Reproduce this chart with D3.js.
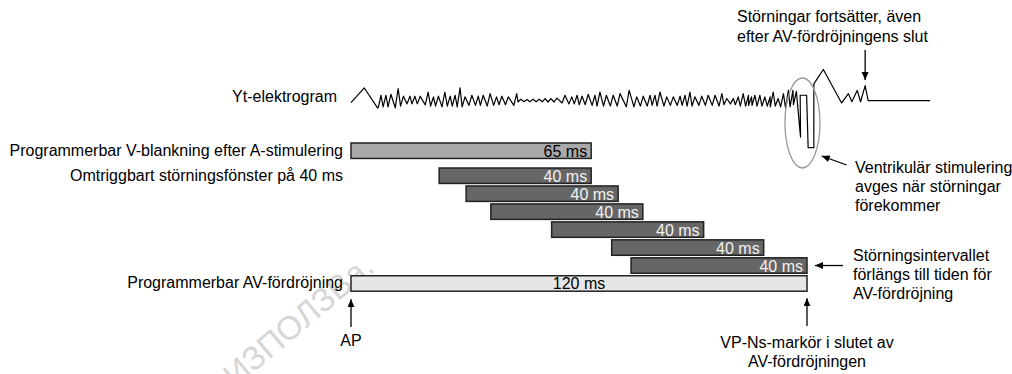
<!DOCTYPE html>
<html>
<head>
<meta charset="utf-8">
<script src="https://cdn.jsdelivr.net/npm/d3@7"></script>
<style>
body { margin: 0; background: #fff; }
text { font-family: "Liberation Sans", Arial, sans-serif; font-size: 16px; fill: #000; }
</style>
</head>
<body>
<div id="chart"></div>
<script>
// timing windows, ms after AP
let barKeys = ["n1", "n2", "n3", "n4", "n5", "n6", "av"];
let barKind = ["noise", "noise", "noise", "noise", "noise", "noise", "av"];
let barStart = [23.2, 30.3, 36.8, 52.8, 68.6, 73.7, 0];
let barEnd = [63.2, 70.3, 76.8, 92.8, 108.6, 120, 120];
let barText = ["40 ms", "40 ms", "40 ms", "40 ms", "40 ms", "40 ms", "120 ms"];

let blankStart = 0;
let blankEnd = 63.2;
let blankText = "65 ms";

let rowLabels = [
    "Programmerbar V-blankning efter A-stimulering",
    "Omtriggbart störningsfönster på 40 ms",
    "Programmerbar AV-fördröjning"
];
let egmLabel = "Yt-elektrogram";

// surface electrogram: [ms, mV]
let egmStart = [[0, -0.04], [3.5, 1.04], [6.98, -0.43]];
// teeth: [ms of peak, peak mV, trough mV before it]
let egmTeeth = [
    [7.9, 0.5, -0.43], [9.2, 0.5, -0.36], [10.5, 0.57, -0.36], [12.4, 1.0, -0.43],
    [13.8, 0.43, -0.3], [15.5, 0.43, -0.14], [16.8, 0.43, -0.14], [18.2, 0.43, -0.14],
    [20.3, 0.74, -0.21], [21.7, 0.38, -0.3], [23.0, 0.43, -0.3], [24.7, 0.74, -0.36],
    [26.1, 0.43, -0.3], [27.4, 0.5, -0.3], [28.7, 1.05, -0.36], [30.0, 0.38, -0.36],
    [31.8, 0.5, -0.25], [33.5, 0.43, -0.25], [34.8, 0.5, -0.25], [36.6, 0.62, -0.3],
    [38.3, 0.38, -0.25], [39.7, 0.43, -0.2], [41.4, 0.38, -0.2], [43.6, 0.62, -0.25],
    [44.7, 0.21, 0.0], [46.3, 0.18, 0.02], [47.9, 0.21, 0.02], [49.5, 0.21, 0.02],
    [51.1, 0.25, 0.02], [52.6, 0.25, 0.0], [54.2, 0.29, 0.0], [56.3, 0.5, -0.07],
    [58.1, 0.38, -0.14], [59.5, 0.5, -0.14], [60.8, 0.43, -0.2], [62.4, 0.57, -0.2],
    [64.2, 0.5, -0.25], [65.5, 0.74, -0.3], [67.2, 0.5, -0.3], [69.0, 0.5, -0.3],
    [70.8, 0.62, -0.3], [73.2, 0.86, -0.36], [75.2, 0.38, -0.36], [76.9, 0.43, -0.3],
    [78.7, 0.5, -0.3], [80.0, 0.5, -0.25], [81.3, 0.74, -0.3], [83.1, 0.38, -0.3],
    [84.8, 0.38, -0.25], [86.6, 0.43, -0.25], [87.9, 0.5, -0.25], [89.2, 0.74, -0.3],
    [90.5, 0.38, -0.3], [92.3, 0.43, -0.25], [94.0, 0.5, -0.25], [95.8, 0.5, -0.25],
    [97.6, 0.62, -0.3], [98.9, 0.26, -0.2], [100.6, 0.26, -0.14], [101.9, 0.38, -0.2],
    [103.2, 0.62, -0.3], [104.6, 0.5, -0.3], [105.4, 0.38, -0.25], [106.3, 0.5, -0.25],
    [107.6, 0.5, -0.3], [108.9, 0.38, -0.3], [110.3, 0.38, -0.3], [111.1, 0.74, -0.36],
    [112.4, 0.26, -0.3], [113.8, 0.62, -0.36], [115.1, 0.86, -0.43], [116.3, 0.86, -0.36],
    [117.2, 0.79, -0.2]
];
// V pace artefact and what follows
let egmEnd = [
    [118.3, -2.6], [118.2, 0.5], [119.9, 0.5], [120.3, -3.38], [121.8, -3.38],
    [121.8, 1.34], [124.3, 2.41], [129.1, -0.07], [130.9, 0.62], [131.8, 0.02],
    [133.2, 0.86], [134.1, 0.02], [135.3, 1.21], [136.1, 0.1], [152.4, 0.1]
];

let noteTop = ["Störningar fortsätter, även", "efter AV-fördröjningens slut"];
let noteVent = ["Ventrikulär stimulering", "avges när störningar", "förekommer"];
let noteExt = ["Störningsintervallet", "förlängs till tiden för", "AV-fördröjning"];
let noteVP = ["VP-Ns-markör i slutet av", "AV-fördröjningen"];
let noteAP = "AP";
let watermark = "ИЗПОЛЗВа.";

let canWidth = 1012;
let canHeight = 374;

let svg = d3.select("#chart").append("svg")
    .attr("width", canWidth)
    .attr("height", canHeight);

let x = d3.scaleLinear()
    .domain([0, 120])
    .range([351, 807]);

let y = d3.scaleBand()
    .domain(barKeys)
    .range([168, 168 + 7 * 17.6])
    .paddingInner(0.14);

let yEgm = d3.scaleLinear()
    .domain([0, 1])
    .range([102, 88.5]);

let fills = {"blank": "#a9a9a9", "noise": "#666666", "av": "#e6e6e6"};

// watermark
svg.append("text")
    .attr("transform", "translate(376,270) rotate(-40)")
    .attr("text-anchor", "end")
    .style("font-size", "33px")
    .style("fill", "#d6d6d6")
    .text(watermark);

// arrow head
svg.append("defs").append("marker")
    .attr("id", "head")
    .attr("markerUnits", "userSpaceOnUse")
    .attr("markerWidth", 9)
    .attr("markerHeight", 8)
    .attr("refX", 8)
    .attr("refY", 3.5)
    .attr("orient", "auto")
    .append("path")
    .attr("d", "M0,0 L8,3.5 L0,7 Z")
    .attr("fill", "#000");

// electrogram
let egmPoints = egmStart.slice();
egmTeeth.forEach(d => {
    egmPoints.push([d[0] - 0.75, d[2]]);
    egmPoints.push([d[0], d[1]]);
});
egmEnd.forEach(d => egmPoints.push(d));

let line = d3.line()
    .x(d => x(d[0]))
    .y(d => yEgm(d[1]));

svg.append("path")
    .datum(egmPoints)
    .attr("d", line)
    .attr("fill", "none")
    .attr("stroke", "#000")
    .attr("stroke-width", 1.2)
    .attr("stroke-linejoin", "round");

svg.append("text")
    .attr("x", 337)
    .attr("y", 102)
    .attr("text-anchor", "end")
    .text(egmLabel);

// circle round the pace artefact
svg.append("ellipse")
    .attr("cx", x(118.8))
    .attr("cy", 123)
    .attr("rx", 17.5)
    .attr("ry", 45)
    .attr("fill", "none")
    .attr("stroke", "#999")
    .attr("stroke-width", 1.3);

// blanking bar
let blankY = y("n1") - 25;
svg.append("rect")
    .attr("x", x(blankStart))
    .attr("y", blankY)
    .attr("width", x(blankEnd) - x(blankStart))
    .attr("height", y.bandwidth())
    .attr("fill", fills.blank)
    .attr("stroke", "#222")
    .attr("stroke-width", 1.5);

svg.append("text")
    .attr("x", x(blankEnd) - 4)
    .attr("y", blankY + y.bandwidth() / 2 + 6)
    .attr("text-anchor", "end")
    .text(blankText);

// noise windows and AV delay
let bars = barKeys.map((k, i) => ({
    key: k, kind: barKind[i], start: barStart[i], end: barEnd[i], label: barText[i]
}));

svg.selectAll(".bar")
    .data(bars)
    .join(
        enter => enter.append("rect")
            .attr("class", "bar")
            .attr("x", d => x(d.start))
            .attr("y", d => y(d.key))
            .attr("width", d => x(d.end) - x(d.start))
            .attr("height", y.bandwidth())
            .attr("fill", d => fills[d.kind])
            .attr("stroke", "#222")
            .attr("stroke-width", 1.5)
    );

svg.selectAll(".barlabel")
    .data(bars)
    .join(
        enter => enter.append("text")
            .attr("class", "barlabel")
            .attr("x", d => d.kind == "av" ? (x(d.start) + x(d.end)) / 2 : x(d.end) - 4)
            .attr("y", d => y(d.key) + y.bandwidth() / 2 + 6)
            .attr("text-anchor", d => d.kind == "av" ? "middle" : "end")
            .style("fill", d => d.kind == "av" ? "#000" : "#f2f2f2")
            .text(d => d.label)
    );

// row labels on the left
let labelRows = [blankY, y("n1"), y("av")];
svg.selectAll(".rowlabel")
    .data(rowLabels)
    .join(
        enter => enter.append("text")
            .attr("class", "rowlabel")
            .attr("x", 343)
            .attr("y", (d, i) => labelRows[i] + y.bandwidth() / 2 + 5)
            .attr("text-anchor", "end")
            .text(d => d)
    );

// annotations
function arrow(x1, y1, x2, y2) {
    svg.append("line")
        .attr("x1", x1).attr("y1", y1)
        .attr("x2", x2).attr("y2", y2)
        .attr("stroke", "#000")
        .attr("stroke-width", 1.3)
        .attr("marker-end", "url(#head)");
}

function note(lines, tx, ty, anchor, step) {
    svg.append("g").selectAll("text")
        .data(lines)
        .join("text")
        .attr("x", tx)
        .attr("y", (d, i) => ty + i * step)
        .attr("text-anchor", anchor)
        .text(d => d);
}

note(noteTop, 737, 22, "start", 19.5);
arrow(x(135.3), 50, x(135.3), 80);

note(noteVent, 855, 173, "start", 19);
arrow(846.7, 165, 821.7, 156);

let extY = y("n6") + y.bandwidth() / 2;
note(noteExt, 853, 261, "start", 19);
arrow(843, extY, x(120) + 8, extY);

note(noteVP, x(120), 348, "middle", 18.5);
arrow(x(120), 326, x(120), y("av") + y.bandwidth() + 7);

note([noteAP], x(0), 346, "middle", 0);
arrow(x(0), 327, x(0), y("av") + y.bandwidth() + 8);
</script>
</body>
</html>
